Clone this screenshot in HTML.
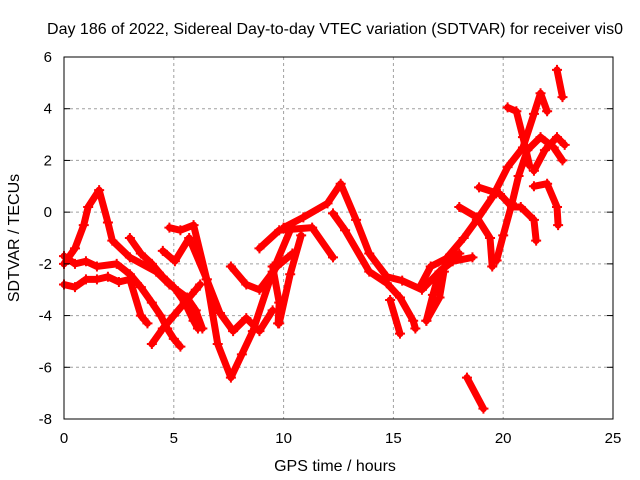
<!DOCTYPE html>
<html><head><meta charset="utf-8"><style>
body{margin:0;background:#fff}
svg{display:block;font-family:"Liberation Sans",sans-serif}
</style></head><body>
<svg id="chart" width="640" height="480" viewBox="0 0 640 480">
<rect width="640" height="480" fill="#fff"/>
<g id="grid"></g>
<g id="series"></g>
<rect x="64" y="57" width="549" height="362" fill="none" stroke="#000" stroke-width="1"/>
<g id="ticks"></g>
<text x="335" y="34" text-anchor="middle" font-size="16">Day 186 of 2022, Sidereal Day-to-day VTEC variation (SDTVAR) for receiver vis0</text>
<text x="335" y="471" text-anchor="middle" font-size="16">GPS time / hours</text>
<text transform="translate(19,238) rotate(-90)" text-anchor="middle" font-size="16">SDTVAR / TECUs</text>
</svg>
<script>
const xTicks=[0,5,10,15,20,25];
const yTicks=[-8,-6,-4,-2,0,2,4,6];
const arc1=[[0,-2.0],[0.5,-1.4],[0.9,-0.5],[1.1,0.2],[1.6,0.85],[2.0,-0.4],[2.2,-1.1],[3.0,-1.75],[4.2,-2.3],[4.8,-2.8],[5.6,-3.3],[6.0,-3.8],[6.3,-4.5]];
const arc2=[[0,-1.7],[0.5,-2.0],[1.0,-1.9],[1.5,-2.1],[2.4,-2.0],[3.0,-2.4],[3.5,-2.9],[4.0,-3.5],[4.4,-4.0],[4.7,-4.5],[5.0,-4.9],[5.3,-5.2]];
const arc3=[[0,-2.8],[0.5,-2.9],[1.0,-2.6],[1.5,-2.6],[2.0,-2.5],[2.5,-2.7],[3.0,-2.6],[3.5,-4.0],[3.8,-4.3]];
const arc4=[[3.0,-1.0],[3.5,-1.6],[4.0,-2.0],[4.5,-2.5],[5.0,-2.9],[5.5,-3.5],[5.9,-4.2],[6.1,-4.5]];
const arc5=[[4.0,-5.1],[4.5,-4.5],[5.0,-4.0],[5.5,-3.5],[6.0,-3.0],[6.2,-2.8]];
const arc6=[[4.8,-0.6],[5.3,-0.7],[5.9,-0.5],[6.5,-2.6],[7.0,-5.1],[7.6,-6.4],[8.1,-5.5],[8.6,-4.6],[9.5,-2.3],[10.3,-0.7]];
const arc7=[[4.5,-1.5],[5.05,-1.9],[5.7,-1.0],[6.5,-2.6],[7.1,-3.9],[7.7,-4.6],[8.3,-4.1],[8.9,-4.6],[9.5,-3.8]];
const arc8=[[7.6,-2.1],[8.3,-2.8],[8.9,-3.0],[9.7,-2.1],[10.4,-1.6]];
const arc9=[[9.8,-4.3],[10.3,-2.4],[10.8,-0.9]];
const arc10=[[10.0,-0.6],[10.9,-0.2],[12.0,0.34],[12.6,1.1],[13.3,-0.3],[13.9,-1.6],[14.7,-2.5],[15.4,-2.65],[16.3,-3.0],[17.1,-2.3],[18.0,-1.6]];
const arc11=[[8.9,-1.4],[9.8,-0.7],[11.3,-0.6],[12.25,-1.75]];
const arc12=[[12.25,-0.05],[12.8,-0.7],[13.9,-2.3],[14.7,-2.75],[15.3,-3.3],[15.9,-4.2],[16.0,-4.5]];
const arc13=[[14.85,-3.4],[15.3,-4.7]];
const arc14=[[9.5,-2.1],[9.8,-3.5],[9.75,-4.3]];
const arc15=[[16.5,-4.2],[17.1,-3.3],[17.3,-2.3]];
const arc16=[[18.35,-6.4],[19.1,-7.6]];
const arc17=[[22.45,5.5],[22.7,4.45]];
const arc18=[[16.5,-4.2],[16.8,-3.2],[17.1,-2.3],[17.7,-1.9],[18.6,-1.75]];
const arc19=[[16.2,-2.9],[16.7,-2.1],[17.4,-1.8],[18.2,-1.0],[18.8,-0.3],[19.5,0.57],[20.2,1.74],[20.9,2.5],[21.4,3.8],[21.7,4.6],[22.0,3.9]];
const arc20=[[18.0,0.2],[18.8,-0.2],[19.4,-1.0],[19.5,-2.1]];
const arc21=[[18.9,0.96],[19.85,0.7],[20.4,0.2],[20.8,0.2],[21.4,-0.3],[21.5,-1.1]];
const arc22=[[19.7,-1.87],[20.0,-0.9],[20.4,0.34],[20.7,1.4],[21.1,2.4],[21.7,2.9],[22.3,2.5],[22.7,2.0]];
const arc23=[[20.2,4.05],[20.6,3.9],[20.9,2.9],[21.2,1.8]];
const arc24=[[21.4,1.6],[21.9,2.4],[22.45,2.9],[22.8,2.6]];
const arc25=[[21.4,1.0],[22.0,1.1],[22.45,0.2],[22.5,-0.5]];
const arcs=[arc1,arc2,arc3,arc4,arc5,arc6,arc7,arc8,arc9,arc10,arc11,arc12,arc13,arc14,arc15,arc16,arc17,arc18,arc19,arc20,arc21,arc22,arc23,arc24,arc25];

const X0=64,X1=613,Y0=419,Y1=57;
const xs=t=>X0+(t-0)/(25-0)*(X1-X0);
const ys=v=>Y0-(v-(-8))/(6-(-8))*(Y0-Y1);
const NS="http://www.w3.org/2000/svg";
const grid=document.getElementById('grid'),ticks=document.getElementById('ticks'),ser=document.getElementById('series');
function mk(tag,attrs,parent){const e=document.createElementNS(NS,tag);for(const k in attrs)e.setAttribute(k,attrs[k]);parent.appendChild(e);return e;}
xTicks.forEach(t=>{
  const x=xs(t);
  if(t>0&&t<25){const g=mk('line',{x1:x,x2:x,y1:Y1,y2:Y0,stroke:'#a0a0a0','stroke-dasharray':'3,3'},grid);
  
  }
  const l=mk('text',{x:x,y:443,'text-anchor':'middle','font-size':'15'},ticks);l.textContent=t;
  
  
});
yTicks.forEach(v=>{
  const y=ys(v);
  if(v>-8&&v<6){const g=mk('line',{x1:X0,x2:X1,y1:y,y2:y,stroke:'#a0a0a0','stroke-dasharray':'3,3'},grid);
  
  }
  mk('line',{x1:X0,x2:X0+6,y1:y,y2:y,stroke:'#000'},ticks);
  mk('line',{x1:X1-6,x2:X1,y1:y,y2:y,stroke:'#000'},ticks);
  const l=mk('text',{x:52,y:y+5,'text-anchor':'end','font-size':'15'},ticks);l.textContent=v;
  
  
});
arcs.forEach(a=>{
  const p=mk('polyline',{points:a.map(d=>xs(d[0])+','+ys(d[1])).join(' '),fill:'none',stroke:'#ff0000','stroke-width':'7','stroke-linejoin':'round','stroke-linecap':'round'},ser);
  
  
  a.forEach(d=>{
    const m=mk('path',{d:`M${xs(d[0])-5},${ys(d[1])}h10M${xs(d[0])},${ys(d[1])-5}v10`,stroke:'#ff0000','stroke-width':'2'},ser);
    
    
  });
});
</script>
</body></html>
